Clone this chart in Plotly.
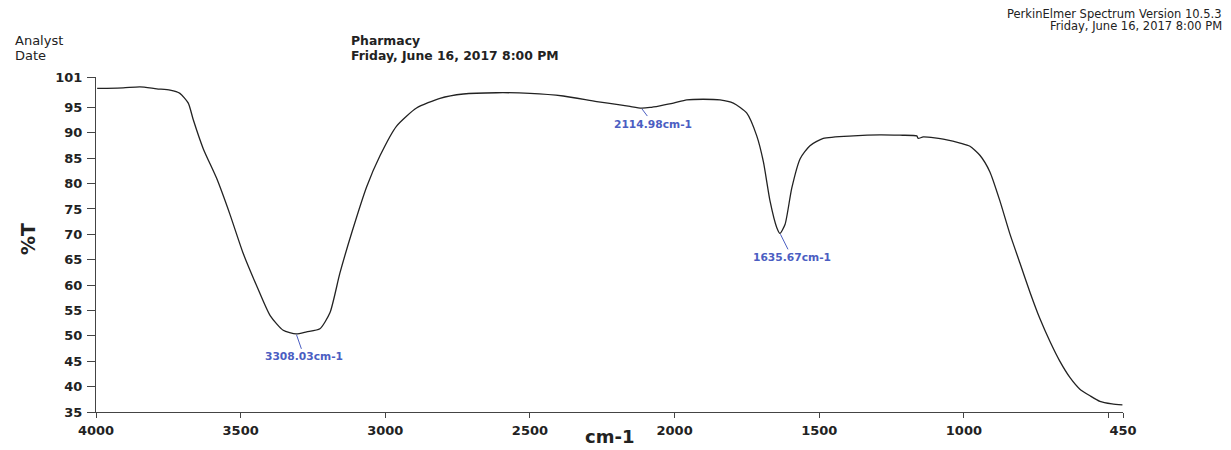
import plotly.graph_objects as go

# ---- data ----
wavenumber = [3996, 3906, 3848, 3790, 3744, 3710, 3681, 3664, 3629, 3583, 3537, 3491,
              3444, 3398, 3353, 3308.03, 3272, 3226, 3191, 3157, 3115, 3064, 3018, 2961,
              2892, 2811, 2730, 2615, 2500, 2385, 2269, 2189, 2154, 2114.98, 2085, 2051,
              2004, 1958, 1901, 1843, 1797, 1751, 1716, 1693, 1670, 1647, 1635.67, 1618,
              1595, 1566, 1532, 1486, 1382, 1290, 1221, 1163, 1158, 1140, 1059, 1013,
              979, 944, 910, 875, 841, 806, 771, 737, 702, 668, 633, 599, 564, 530, 488, 452]
transmittance = [98.75, 98.86, 99.06, 98.67, 98.42, 97.78, 95.85, 92.62, 86.83, 81.03, 73.94, 66.22,
                 59.78, 53.99, 51.1, 50.4, 50.8, 51.4, 54.6, 62.35, 70.5, 79.43, 85.53, 91.33,
                 94.88, 96.8, 97.65, 97.9, 97.78, 97.26, 96.16, 95.52, 95.2, 94.88, 95.0, 95.33,
                 95.85, 96.49, 96.62, 96.49, 95.85, 93.92, 89.4, 84.26, 76.53, 71.37, 70.2, 72.0,
                 79.1, 84.9, 87.47, 88.9, 89.4, 89.6, 89.53, 89.4, 88.9, 89.2, 88.63, 87.99,
                 87.35, 85.53, 82.3, 76.5, 70.1, 64.3, 58.5, 53.35, 48.83, 44.97, 41.76, 39.5,
                 38.2, 37.1, 36.6, 36.4]

x_ticks = [4000, 3500, 3000, 2500, 2000, 1500, 1000, 500, 450]
x_tick_labels = ["4000", "3500", "3000", "2500", "2000", "1500", "1000", "", "450"]
y_ticks = [35, 40, 45, 50, 55, 60, 65, 70, 75, 80, 85, 90, 95, 101]

peak_wn = [3308.03, 2114.98, 1635.67]
peak_T = [50.4, 94.88, 70.2]
peak_labels = ["3308.03cm-1", "2114.98cm-1", "1635.67cm-1"]
peak_offsets = [(8, 23), (12, 16), (12, 24)]

# ---- layout geometry (page has an 8px body margin) ----
OFF = 8
W, H = 1231 - OFF, 450 - OFF
ML, MR, MT, MB = 96 - OFF, 108, 77 - OFF, 32
PW, PH = W - ML - MR, H - MT - MB


def px(x):
    """page pixel x -> paper fraction"""
    return (x - OFF - ML) / PW


def py(y):
    """page pixel y -> paper fraction"""
    return (H - MB - (y - OFF)) / PH


FONT = "DejaVu Sans"
BLUE = "#4b5ec2"
INK = "#222222"

fig = go.Figure()
fig.add_trace(go.Scatter(
    x=wavenumber, y=transmittance, mode="lines",
    line=dict(color=INK, width=1.3, shape="spline", smoothing=0.6),
    hoverinfo="skip", showlegend=False,
))

annotations = []
for wn, t, lab, (ax, ay) in zip(peak_wn, peak_T, peak_labels, peak_offsets):
    annotations.append(dict(
        x=wn, y=t, xref="x", yref="y", text=lab, showarrow=True,
        arrowhead=0, arrowwidth=1, arrowcolor=BLUE, ax=ax, ay=ay, standoff=1,
        font=dict(family=FONT, size=10.7, color=BLUE, weight="bold"),
    ))

header = [
    ("Analyst", 13, 40, "left", 13, "normal"),
    ("Date", 13, 55, "left", 13, "normal"),
    ("Pharmacy", 349, 40, "left", 12.4, "bold"),
    ("Friday, June 16, 2017 8:00 PM", 349, 55, "left", 12.4, "bold"),
    ("PerkinElmer Spectrum Version 10.5.3", 1224, 13, "right", 11.5, "normal"),
    ("Friday, June 16, 2017 8:00 PM", 1224, 25, "right", 11.5, "normal"),
]
for text, x, y, anchor, size, weight in header:
    annotations.append(dict(
        x=px(x), y=py(y), xref="paper", yref="paper", text=text, showarrow=False,
        xanchor=anchor, yanchor="middle",
        font=dict(family=FONT, size=size, color=INK, weight=weight),
    ))

annotations.append(dict(
    x=px(28), y=py(242), xref="paper", yref="paper", text="%T", showarrow=False,
    textangle=-90, xanchor="center", yanchor="middle",
    font=dict(family=FONT, size=19, color=INK, weight="bold"),
))
annotations.append(dict(
    x=px(609), y=py(443), xref="paper", yref="paper", text="cm-1", showarrow=False,
    xanchor="center", yanchor="middle",
    font=dict(family=FONT, size=18, color=INK, weight="bold"),
))

tickfont = dict(family=FONT, size=13, color=INK, weight="bold")
fig.update_layout(
    width=W, height=H,
    margin=dict(l=ML, r=MR, t=MT, b=MB, pad=0),
    paper_bgcolor="white", plot_bgcolor="white",
    showlegend=False,
    annotations=annotations,
    xaxis=dict(
        range=[4000, 450], tickmode="array", tickvals=x_ticks, ticktext=x_tick_labels,
        showline=True, linecolor="#444444", linewidth=1.2, mirror=False,
        ticks="outside", ticklen=5, tickcolor="#444444", tickwidth=1,
        showgrid=False, zeroline=False, tickfont=tickfont, ticklabelstandoff=1,
    ),
    yaxis=dict(
        range=[35, 101], tickmode="array", tickvals=y_ticks,
        showline=True, linecolor="#444444", linewidth=1.2, mirror=False,
        ticks="outside", ticklen=8, tickcolor="#444444", tickwidth=1,
        showgrid=False, zeroline=False, tickfont=tickfont, ticklabelstandoff=2,
    ),
)

fig.write_html("out.html")
